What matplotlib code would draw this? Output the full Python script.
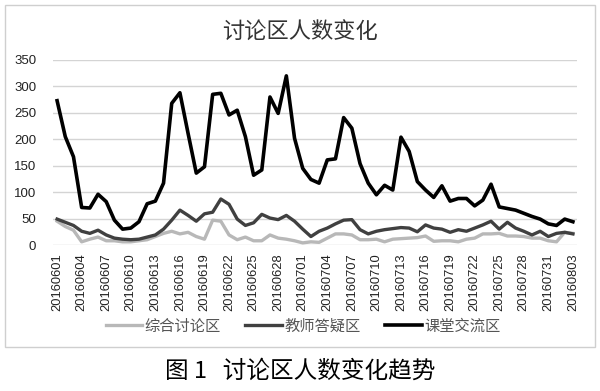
import numpy as np
import pandas as pd
import matplotlib
matplotlib.use("Agg")
import matplotlib.pyplot as plt
from matplotlib.patches import Rectangle

plt.rcParams['font.family'] = ['Noto Sans CJK SC', 'DejaVu Sans']

# daily dates 2016-06-01 .. 2016-08-03
dates = pd.date_range("2016-06-01", "2016-08-03").strftime("%Y%m%d").tolist()

series_names = ["综合讨论区", "教师答疑区", "课堂交流区"]

zonghe = [45, 35, 28, 6, 11, 15, 8, 8, 6, 6, 8, 10, 16, 22, 26, 21,
          24, 16, 11, 47, 45, 19, 10, 15, 8, 8, 19, 13, 11, 8, 4, 6,
          5, 13, 21, 21, 19, 10, 10, 11, 6, 11, 12, 13, 14, 17, 7, 8,
          8, 6, 11, 13, 21, 21, 22, 17, 17, 16, 13, 13, 8, 6, 24, 22]

dayi = [49, 43, 37, 26, 22, 28, 19, 13, 11, 10,
        11, 15, 19, 30, 47, 66, 56, 45, 59, 62,
        87, 77, 49, 37, 42, 58, 51, 48, 56, 45,
        30, 16, 26, 32, 40, 47, 48, 29, 21, 26,
        29, 31, 33, 32, 25, 38, 32, 30, 24, 29,
        26, 32, 38, 45, 30, 43, 32, 26, 19, 26,
        16, 22, 24, 21]

jiaoliu = [273, 205, 167, 71, 70, 96, 82, 47, 30, 32,
           44, 78, 83, 117, 268, 288, 211, 136, 148, 285,
           287, 246, 255, 205, 132, 142, 280, 249, 320, 202,
           145, 124, 117, 161, 163, 241, 221, 154, 117, 95,
           113, 104, 204, 177, 120, 104, 90, 112, 83, 88,
           88, 74, 85, 115, 72, 69, 66, 60, 54, 49,
           40, 37, 49, 44]

yticks = [0, 50, 100, 150, 200, 250, 300, 350]

W, H = 600, 391
fig = plt.figure(figsize=(W / 100, H / 100), dpi=100)

# outer chart frame
fig.patches.append(Rectangle((5 / W, 1 - 347 / H), 590 / W, 342 / H,
                             transform=fig.transFigure, fill=False,
                             edgecolor="#cfcfcf", linewidth=1.0))

ax = fig.add_axes([53 / W, 1 - 245 / H, 524 / W, 185 / H])
x = np.arange(len(dates))
ax.plot(x, zonghe, color="#b8b8b8", lw=2.4, label=series_names[0])
ax.plot(x, dayi, color="#404040", lw=2.4, label=series_names[1])
ax.plot(x, jiaoliu, color="#000000", lw=2.6, label=series_names[2])

ax.set_xlim(-0.5, len(dates) - 0.5)
ax.set_ylim(0, 350)
ax.set_yticks(yticks)
ax.set_yticklabels([str(v) for v in yticks], fontsize=9.5,
                   family="Liberation Sans", color="#222222")
ax.set_xticks(x[::3])
ax.set_xticklabels(dates[::3], rotation=90, fontsize=9.3,
                   family="Liberation Sans", color="#222222")
ax.tick_params(length=0, pad=6)
ax.tick_params(axis="y", pad=12)
ax.grid(axis="y", color="#d4d4d4", lw=1.0)
ax.set_axisbelow(True)
for s in ax.spines.values():
    s.set_visible(False)

fig.text(0.5, 1 - 32 / H, "讨论区人数变化", ha="center", va="center",
         fontsize=16, color="#333333")

fig.legend(loc="center", bbox_to_anchor=(0.505, 1 - 326 / H), ncol=3,
           frameon=False, fontsize=11, handlelength=2.4, handletextpad=0.15,
           columnspacing=1.6, labelcolor="#555555")

fig.text(0.5, 1 - 371 / H, "图 1   讨论区人数变化趋势", ha="center", va="center",
         fontsize=17, color="#000000")

fig.savefig("out.png", dpi=100)
